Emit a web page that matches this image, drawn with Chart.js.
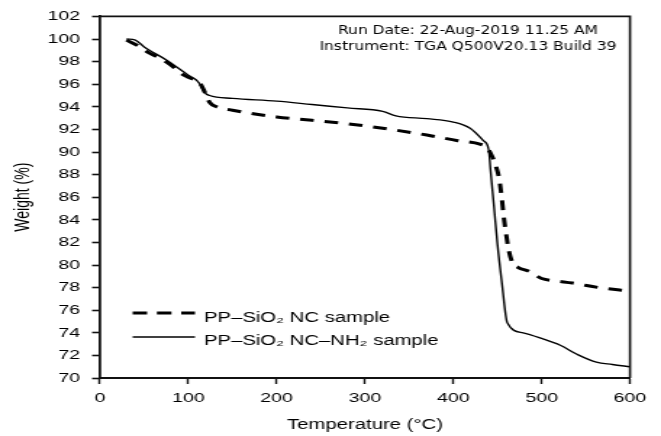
<!DOCTYPE html>
<html><head><meta charset="utf-8">
<script src="https://cdn.jsdelivr.net/npm/chart.js@4.4.0/dist/chart.umd.min.js"></script>
<style>
html,body{margin:0;padding:0;background:#fff;overflow:hidden}
</style>
</head><body>
<canvas id="c" width="456" height="436" style="display:block;width:661px;height:436px"></canvas>
<script>
// ---- data ----
const seriesNames = ['PP\u2013SiO\u2082 NC sample', 'PP\u2013SiO\u2082 NC\u2013NH\u2082 sample'];
const tempNC = [30, 43, 55, 68, 80, 91, 100, 113, 118, 124, 132, 150, 200, 240, 280, 320, 370, 405, 430, 438, 444, 448, 452, 455, 457, 460, 463, 467, 473, 487, 500, 515, 535, 565, 600];
const weightNC = [99.9, 99.4, 98.8, 98.3, 97.7, 97.0, 96.6, 96.1, 95.4, 94.4, 94.0, 93.7, 93.1, 92.8, 92.5, 92.1, 91.5, 91.0, 90.7, 90.4, 89.6, 88.8, 87.6, 85.8, 84.3, 82.6, 81.2, 80.2, 79.8, 79.4, 78.8, 78.6, 78.4, 78.0, 77.7];
const tempNH2 = [30, 40, 50, 76, 100, 110, 114, 118, 124, 150, 200, 240, 280, 320, 335, 370, 400, 419, 434, 440, 442, 446, 450, 455, 461, 479, 500, 521, 540, 562, 580, 600];
const weightNH2 = [100.0, 99.9, 99.3, 98.1, 96.8, 96.3, 95.9, 95.3, 95.0, 94.75, 94.5, 94.2, 93.9, 93.6, 93.2, 92.95, 92.65, 92.1, 91.0, 90.2, 88.5, 85.2, 81.8, 78.4, 74.9, 74.0, 73.5, 72.9, 72.1, 71.4, 71.2, 71.0];
const xTickValues = [0, 100, 200, 300, 400, 500, 600];
const yTickValues = [70, 72, 74, 76, 78, 80, 82, 84, 86, 88, 90, 92, 94, 96, 98, 100, 102];
const annotationLines = ['Run Date: 22-Aug-2019 11.25 AM', 'Instrument: TGA Q500V20.13 Build 39'];
const xTitle = 'Temperature (\u00B0C)';
const yTitle = 'Weight (%)';

// ---- layout (canvas is drawn narrow and stretched horizontally like the source image) ----
const SX = 661 / 456;
const INK = '#111';
const TXT = '#000';
const FONT = "'Liberation Sans', Arial, sans-serif";

const pts = (xs, ys) => xs.map((x, i) => ({x: x, y: ys[i]}));

const extras = {
  id: 'extras',
  afterDraw(chart) {
    const {ctx, chartArea: a} = chart;
    ctx.save();
    // frame top and right
    ctx.strokeStyle = INK;
    ctx.lineWidth = 1.6;
    ctx.setLineDash([]);
    ctx.beginPath();
    ctx.moveTo(a.left, a.top);
    ctx.lineTo(a.right, a.top);
    ctx.lineTo(a.right, a.bottom);
    ctx.stroke();

    // annotation text
    ctx.fillStyle = TXT;
    ctx.font = "12.5px 'DejaVu Sans', Verdana, sans-serif";
    ctx.textAlign = 'center';
    ctx.textBaseline = 'alphabetic';
    const cx = 468 / SX;
    ctx.fillText(annotationLines[0], cx, 33.5, 260 / SX);
    ctx.fillText(annotationLines[1], cx, 50, 297 / SX);

    // legend
    const ds = chart.data.datasets;
    const rows = [313, 337];
    const base = [321.5, 345];
    const x0 = 91.5, x1 = 134.5, tx = 140.7;
    ds.forEach((d, i) => {
      ctx.strokeStyle = d.borderColor;
      ctx.lineWidth = d.borderWidth;
      ctx.setLineDash(i === 0 ? [10, 6.75] : []);
      ctx.beginPath();
      ctx.moveTo(x0, rows[i]);
      ctx.lineTo(x1, rows[i]);
      ctx.stroke();
      ctx.setLineDash([]);
      ctx.fillStyle = TXT;
      ctx.font = '14px ' + FONT;
      ctx.textAlign = 'left';
      ctx.textBaseline = 'alphabetic';
      ctx.fillText(d.label, tx, base[i]);
    });
    ctx.restore();
  }
};

new Chart(document.getElementById('c'), {
  type: 'line',
  data: {
    datasets: [
      {
        label: seriesNames[0],
        data: pts(tempNC, weightNC),
        borderColor: '#000',
        borderWidth: 3,
        borderDash: [9.5, 7.5],
        pointRadius: 0,
        fill: false,
        cubicInterpolationMode: 'monotone'
      },
      {
        label: seriesNames[1],
        data: pts(tempNH2, weightNH2),
        borderColor: '#000',
        borderWidth: 1.4,
        pointRadius: 0,
        fill: false,
        cubicInterpolationMode: 'monotone'
      }
    ]
  },
  options: {
    responsive: false,
    animation: false,
    devicePixelRatio: 1,
    events: [],
    layout: {padding: {top: 16, right: 456 - 630 / SX, bottom: 0, left: 0}},
    plugins: {legend: {display: false}, tooltip: {enabled: false}},
    scales: {
      x: {
        type: 'linear',
        position: 'bottom',
        min: 0, max: 600,
        afterBuildTicks: s => { s.ticks = xTickValues.map(v => ({value: v})); },
        afterFit: s => { s.height = 58; },
        ticks: {
          font: {size: 13.5, family: FONT},
          color: TXT,
          padding: 6,
          maxRotation: 0,
          autoSkip: false
        },
        grid: {drawOnChartArea: false, drawTicks: true, tickLength: 6, tickColor: INK, tickWidth: 1.4, color: INK},
        border: {display: true, color: INK, width: 1.9},
        title: {display: true, text: xTitle, color: TXT, font: {size: 14, family: FONT}, padding: {top: 0, bottom: 2.6}}
      },
      y: {
        type: 'linear',
        position: 'left',
        min: 70, max: 102,
        afterBuildTicks: s => { s.ticks = yTickValues.map(v => ({value: v})); },
        afterFit: s => { s.width = 100 / SX; },
        ticks: {
          font: {size: 13.5, family: FONT},
          color: TXT,
          padding: 8.3,
          autoSkip: false
        },
        grid: {drawOnChartArea: false, drawTicks: true, tickLength: 5.5, tickColor: INK, tickWidth: 1.6, color: INK},
        border: {display: true, color: INK, width: 1.8},
        title: {display: true, text: yTitle, color: TXT, font: {size: 14, family: FONT}, padding: {top: 7.5, bottom: 0}}
      }
    }
  },
  plugins: [extras]
});
</script>
</body></html>
